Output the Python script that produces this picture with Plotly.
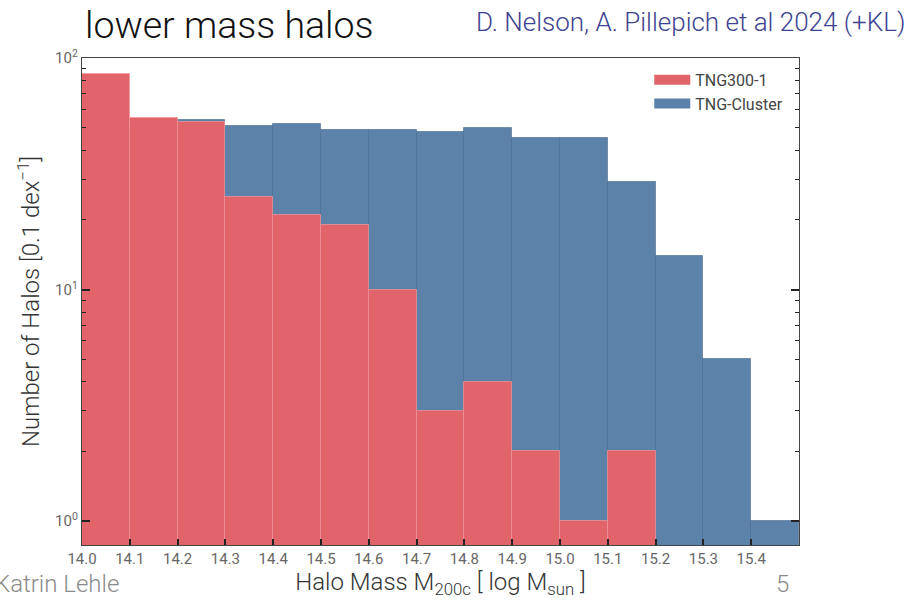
import plotly.graph_objects as go

# Halo-mass bins (lower edges, log M_sun), 0.1 dex wide
bin_lo = [14.0, 14.1, 14.2, 14.3, 14.4, 14.5, 14.6, 14.7, 14.8, 14.9,
          15.0, 15.1, 15.2, 15.3, 15.4]
bin_width = 0.1

# Halo counts per bin
tng300 = [85, 55, 53, 25, 21, 19, 10, 3, 4, 2, 1, 2, None, None, None]
tng_cluster = [48, 52, 54, 51, 52, 49, 49, 48, 50, 45, 45, 29, 14, 5, 1]

x_ticks = [14.0, 14.1, 14.2, 14.3, 14.4, 14.5, 14.6, 14.7, 14.8, 14.9,
           15.0, 15.1, 15.2, 15.3, 15.4]
x_ticklabels = [f"{v:.1f}" for v in x_ticks]
y_ticks = [1, 10, 100]
y_ticklabels = ["10<sup>0</sup>", "10<sup>1</sup>", "10<sup>2</sup>"]
y_minor = [m * d for d in (1, 10) for m in range(2, 10)]

RED = "rgb(225,100,106)"
BLUE = "rgb(92,130,170)"

fig = go.Figure()

fig.add_trace(go.Bar(
    x=bin_lo, y=tng_cluster, width=bin_width, offset=0,
    marker=dict(color=BLUE, line=dict(color="rgba(70,105,145,0.6)", width=1)),
    name="TNG-Cluster", showlegend=False,
))
fig.add_trace(go.Bar(
    x=bin_lo, y=tng300, width=bin_width, offset=0,
    marker=dict(color=RED, line=dict(color="rgba(245,150,155,0.7)", width=1)),
    name="TNG300-1", showlegend=False,
))

# Wide rectangular legend swatches
for name, col in [("TNG300-1", RED), ("TNG-Cluster", BLUE)]:
    fig.add_trace(go.Scatter(
        x=[None], y=[None], mode="lines", name=name,
        line=dict(color=col, width=11),
    ))

fig.update_layout(
    width=921, height=602,
    margin=dict(l=82, r=122, t=58, b=54),
    paper_bgcolor="white", plot_bgcolor="white",
    barmode="overlay", bargap=0,
    font=dict(family="Roboto", color="#555555"),
    showlegend=True,
    legend=dict(
        x=0.985, y=0.99, xanchor="right", yanchor="top",
        bgcolor="rgba(0,0,0,0)", font=dict(size=16, color="#444444"),
        itemwidth=36, tracegroupgap=0,
    ),
)

fig.update_xaxes(
    range=[14.0, 15.5],
    tickvals=x_ticks, ticktext=x_ticklabels,
    ticks="inside", ticklen=6, tickwidth=1.5, tickcolor="#222222",
    tickfont=dict(size=15, color="#666666"),
    showline=True, linecolor="#444444", linewidth=1.2, mirror=True,
    showgrid=False, zeroline=False,
    title=dict(text="Halo Mass M<sub>200c</sub> [ log M<sub>sun</sub> ]",
               font=dict(size=24, color="#333333", weight=300), standoff=5),
)
fig.update_yaxes(
    type="log", range=[-0.103, 2.0],
    tickvals=y_ticks, ticktext=y_ticklabels,
    ticks="inside", ticklen=8, tickwidth=1.5, tickcolor="#222222",
    tickfont=dict(size=15, color="#666666"),
    minor=dict(tickvals=y_minor, ticks="inside", ticklen=4, tickwidth=1,
               tickcolor="#222222", showgrid=False),
    showline=True, linecolor="#444444", linewidth=1.2, mirror="allticks",
    showgrid=False, zeroline=False,
    title=dict(text="Number of Halos [0.1 dex<sup>\u22121</sup>]",
               font=dict(size=24, color="#333333", weight=300), standoff=8),
)

# Slide header, credit and footer texts
fig.add_annotation(text="lower mass halos", xref="paper", yref="paper",
                   x=0, y=1.0, xshift=1, yshift=57,
                   xanchor="left", yanchor="top", showarrow=False,
                   font=dict(size=37.5, color="#111111", family="Roboto", weight=300))
fig.add_annotation(text="D. Nelson, A. Pillepich et al 2024 (+KL)",
                   xref="paper", yref="paper", x=1.0, y=1.0,
                   xshift=108, yshift=53, xanchor="right", yanchor="top",
                   showarrow=False,
                   font=dict(size=26, color="#3d4291", family="Roboto", weight=300))
fig.add_annotation(text="Katrin Lehle", xref="paper", yref="paper",
                   x=0, y=0, xshift=-89, yshift=-23, xanchor="left", yanchor="top",
                   showarrow=False,
                   font=dict(size=24, color="#8a8a8a", family="Roboto", weight=300))
fig.add_annotation(text="5", xref="paper", yref="paper",
                   x=1.0, y=0, xshift=-8, yshift=-23, xanchor="right", yanchor="top",
                   showarrow=False,
                   font=dict(size=24, color="#8a8a8a", family="Roboto", weight=300))

fig.write_html("out.html")
